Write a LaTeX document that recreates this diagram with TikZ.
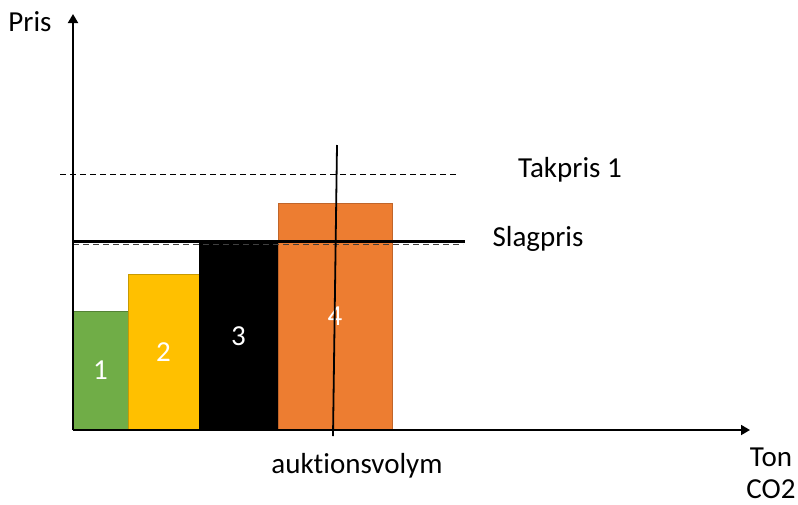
\documentclass[tikz,border=0pt]{standalone}
\usepackage{fontspec}
\setmainfont{Carlito}[Ligatures={NoCommon}]
\usepackage{tikz}
\usetikzlibrary{arrows.meta}
\definecolor{barGreen}{HTML}{70AD47}
\definecolor{barGreenEdge}{HTML}{548235}
\definecolor{barYellow}{HTML}{FFC000}
\definecolor{barYellowEdge}{HTML}{C89A00}
\definecolor{barOrange}{HTML}{ED7D31}
\definecolor{barOrangeEdge}{HTML}{C0652A}
\tikzset{
	bar/.style={draw, line width=1pt, inner sep=0pt, outer sep=0pt, anchor=south west, text=white, font=\fontsize{29}{35}\selectfont},
	lbl/.style={inner sep=0pt, font=\fontsize{29}{35}\selectfont},
	axis/.style={line width=1.8pt, -{Triangle[length=9pt,width=10pt]}},
	pricedash/.style={line width=1pt, dash pattern=on 6pt off 4pt}
}

\begin{document}
\begin{tikzpicture}[x=1pt,y=-1pt]
	\useasboundingbox (0,0) rectangle (798,504);
	\node[bar, fill=barGreen, draw=barGreenEdge, minimum width=55pt, minimum height=119pt] (b1) at (73,430) {1};
	\node[bar, fill=barYellow, draw=barYellowEdge, minimum width=71pt, minimum height=156pt] (b2) at (b1.south east) {2};
	\node[bar, fill=black, draw=black, minimum width=79pt, minimum height=188pt] (b3) at (b2.south east) {3};
	\node[bar, fill=barOrange, draw=barOrangeEdge, minimum width=114pt, minimum height=227pt] (b4) at (b3.south east) {4};
	\coordinate (o) at (73,430);
	\coordinate (ytip) at (73,14);
	\coordinate (xtip) at (750,430);
	\coordinate (tak-l) at (60,174);
	\coordinate (tak-r) at (458,174);
	\coordinate (slag-l) at (73,241.5);
	\coordinate (slag-r) at (465,241.5);
	\coordinate (slagd-l) at (73,244.5);
	\coordinate (slagd-r) at (463,244.5);
	\coordinate (vol-top) at (337,145);
	\coordinate (vol-bot) at (333,436);
	\draw[pricedash] (tak-l) -- (tak-r);
	\draw[pricedash, draw=black!75] (slagd-l) -- (slagd-r);
	\draw[line width=2.2pt] (slag-l) -- (slag-r);
	\draw[line width=1.8pt] (vol-bot) -- (vol-top);
	\draw[axis] (o) -- (ytip);
	\draw[axis] (o) -- (xtip);
	\node[lbl] (pris) at (30,22) {Pris};
	\node[lbl] (takpris) at (570,170) {Takpris 1};
	\node[lbl] (slagpris) at (538,239) {Slagpris};
	\node[lbl] (volym) at (357,466) {auktionsvolym};
	\node[lbl, align=center] (ton) at (771,473) {Ton\\[-3pt]CO2};
\end{tikzpicture}
\end{document}
